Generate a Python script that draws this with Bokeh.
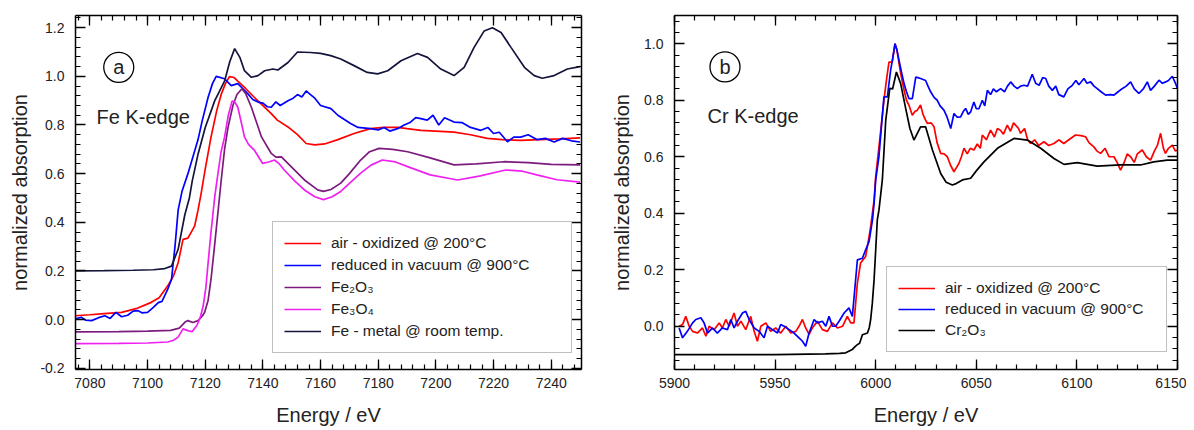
from bokeh.plotting import figure
from bokeh.layouts import row
from bokeh.models import (LinearAxis, SingleIntervalTicker, PrintfTickFormatter,
                          CustomJSTickFormatter, Label, Range1d)
from bokeh.embed import file_html
from bokeh.resources import INLINE

# ---------------- Fe K-edge data (panel a) ----------------
fe_air_x = [7075, 7080, 7085, 7091, 7096, 7101.3, 7104, 7107, 7109, 7110.6, 7112.3, 7114, 7116.3, 7117.5,
            7118.6, 7120, 7122, 7124, 7125.6, 7127, 7128.4, 7130, 7131.3, 7134, 7137, 7140, 7142.9, 7145,
            7148.7, 7152, 7155, 7158, 7161.4, 7166, 7171.6, 7177.3, 7182, 7186.7, 7190, 7194.8, 7200,
            7206.3, 7212, 7217.8, 7223, 7229.4, 7236, 7243, 7250]
fe_air_y = [0.016, 0.02, 0.025, 0.03, 0.045, 0.071, 0.09, 0.139, 0.18, 0.234, 0.33, 0.335, 0.384, 0.45,
            0.52, 0.62, 0.75, 0.86, 0.928, 0.97, 0.999, 0.995, 0.98, 0.95, 0.914, 0.88, 0.847, 0.82,
            0.792, 0.76, 0.724, 0.718, 0.722, 0.74, 0.765, 0.785, 0.79, 0.79, 0.785, 0.778, 0.775,
            0.771, 0.76, 0.745, 0.74, 0.737, 0.74, 0.743, 0.747]

fe_vac_x = [7075, 7077, 7078.5, 7080.6, 7083, 7085.2, 7087, 7089, 7091, 7093.1, 7095, 7096.7, 7098, 7100,
            7102, 7103.7, 7105, 7107, 7108.3, 7109.5, 7110.6, 7112, 7114, 7117.5, 7119, 7121, 7122.5,
            7123.8, 7126.7, 7129, 7131.3, 7133, 7134.8, 7136.5, 7138.3, 7140, 7141.5, 7142.9, 7144.5,
            7146, 7148.7, 7150.5, 7152, 7153.5, 7155, 7156.5, 7158, 7160, 7163.6, 7166, 7170.4, 7173,
            7177.3, 7180, 7182, 7184, 7186.7, 7189, 7191, 7193, 7194.8, 7197, 7199, 7201, 7203, 7206.3,
            7209, 7212, 7215.6, 7218, 7220, 7222, 7224.8, 7227, 7229.4, 7232, 7235, 7238, 7241, 7244,
            7247, 7250]
fe_vac_y = [0.003, 0.01, -0.002, -0.004, 0.008, 0.016, 0.005, 0.03, 0.012, 0.018, 0.035, 0.037, 0.028, 0.03,
            0.05, 0.07, 0.075, 0.125, 0.166, 0.30, 0.45, 0.53, 0.60, 0.74, 0.82, 0.914, 0.97,
            1.0, 0.99, 0.962, 0.97, 0.95, 0.928, 0.905, 0.894, 0.89, 0.875, 0.873, 0.895,
            0.88, 0.90, 0.91, 0.925, 0.915, 0.94, 0.925, 0.91, 0.88, 0.867, 0.84, 0.806, 0.79,
            0.785, 0.78, 0.79, 0.775, 0.785, 0.80, 0.81, 0.83, 0.826, 0.82, 0.84, 0.80, 0.83, 0.812,
            0.81, 0.79, 0.778, 0.79, 0.765, 0.77, 0.731, 0.75, 0.75, 0.76, 0.74, 0.745, 0.73, 0.745,
            0.735, 0.73]

fe2o3_x = [7075, 7090, 7100, 7108, 7111, 7113, 7114, 7115.7, 7117.5, 7119, 7119.8, 7121, 7122, 7123.2,
           7124.4, 7125.6, 7126.7, 7127.9, 7129.6, 7131, 7132.7, 7134, 7136, 7139.5, 7142.9, 7144.5,
           7146.4, 7149.8, 7154.4, 7159, 7161, 7163.6, 7167, 7170, 7173.9, 7177, 7180.3, 7185, 7190.2,
           7198, 7206.3, 7214, 7223.6, 7232, 7240, 7250]
fe2o3_y = [-0.05, -0.049, -0.047, -0.044, -0.035, -0.01, -0.004, -0.012, -0.004, 0.015, 0.03, 0.08, 0.166, 0.3,
           0.44, 0.58, 0.70, 0.79, 0.88, 0.925, 0.949, 0.93, 0.873, 0.751, 0.683, 0.668,
           0.669, 0.629, 0.574, 0.533, 0.527, 0.535, 0.561, 0.60, 0.656, 0.69, 0.704, 0.70, 0.69,
           0.665, 0.636, 0.64, 0.649, 0.645, 0.638, 0.636]

fe3o4_x = [7075, 7090, 7100, 7107, 7109, 7110.6, 7112.3, 7114, 7115.4, 7117.1, 7118.3, 7119.3, 7120.2, 7121,
           7122, 7123.3, 7124.4, 7125.5, 7126.7, 7128, 7129.3, 7130.2, 7131.3, 7132.5, 7133.6, 7135, 7137,
           7139.9, 7142, 7144, 7145.7, 7147.4, 7151, 7154.4, 7158, 7161, 7164, 7167, 7170, 7173.9,
           7177.5, 7181.4, 7186, 7190.2, 7198, 7207.5, 7215, 7224.2, 7230, 7235, 7242, 7250]
fe3o4_y = [-0.099, -0.098, -0.096, -0.092, -0.085, -0.072, -0.038, -0.045, -0.05, -0.024, 0.01, 0.057, 0.13, 0.234,
           0.36, 0.506, 0.60, 0.69, 0.75, 0.84, 0.898, 0.895, 0.873, 0.81, 0.751, 0.72, 0.697,
           0.642, 0.648, 0.656, 0.64, 0.615, 0.57, 0.533, 0.505, 0.493, 0.505, 0.527, 0.56, 0.602,
           0.635, 0.656, 0.648, 0.629, 0.595, 0.574, 0.59, 0.615, 0.61, 0.595, 0.575, 0.565]

fe_metal_x = [7075, 7085, 7095, 7102, 7106, 7108.3, 7110.6, 7112.9, 7114.5, 7115.5, 7117.5, 7120, 7123.3,
              7126.7, 7128.5, 7130.2, 7132, 7133.6, 7136, 7138.3, 7140.6, 7143.5, 7145.2, 7148.7, 7152,
              7156.5, 7160, 7163.5, 7167, 7171.6, 7176.2, 7179.8, 7183.3, 7187.9, 7193.6, 7197.1, 7201.7,
              7206.3, 7209.8, 7213.2, 7216.7, 7219.6, 7222.6, 7226.1, 7230.7, 7234.1, 7236.9, 7241,
              7245.6, 7250]
fe_metal_y = [0.200, 0.201, 0.203, 0.205, 0.210, 0.22, 0.289, 0.43, 0.50, 0.57, 0.68, 0.79, 0.90,
              0.98, 1.06, 1.114, 1.078, 1.023, 0.996, 1.003, 1.023, 1.03, 1.026, 1.057, 1.10,
              1.098, 1.094, 1.085, 1.071, 1.044, 1.016, 1.01, 1.023, 1.064, 1.094, 1.078, 1.03,
              1.003, 1.037, 1.118, 1.186, 1.2, 1.18, 1.118, 1.037, 1.003, 0.992, 1.003,
              1.03, 1.04]

# ---------------- Cr K-edge data (panel b) ----------------
cr_air_x = [5902.3, 5904, 5905.6, 5907.3, 5909, 5911.4, 5913.9, 5915.6, 5917.2, 5919.7, 5922.2, 5923.8,
            5925.5, 5927.2, 5929.6, 5931.3, 5933, 5935.4, 5937.9, 5939.6, 5941.2, 5942.9, 5945.4, 5947.8,
            5950.3, 5952.8, 5955.3, 5957.8, 5960.3, 5961.9, 5963.6, 5965.2, 5966.9, 5968.5, 5971, 5973.5,
            5976, 5978.5, 5981, 5983.5, 5985.9, 5987.6, 5989.2, 5990.9, 5992.5, 5995, 5996.3, 5997.5,
            5999.2, 6000, 6002, 6004.1, 6005.5, 6006.6, 6008.2, 6009.6, 6010.5, 6011.6, 6012.8, 6014.1,
            6015.3, 6016.5, 6018.2, 6019.5, 6020.7, 6022.3, 6023.5, 6024.8, 6025.7, 6027.5, 6029, 6030.5,
            6032.3, 6034, 6035.6, 6037.2, 6038.9, 6040, 6041.4, 6042.6, 6043.9, 6045.5, 6047, 6048.8,
            6050.5, 6052, 6053, 6055, 6057.1, 6059, 6060.5, 6062, 6063.5, 6065.4, 6067, 6068.5, 6069.5,
            6071, 6072, 6074, 6075.5, 6077, 6079, 6081, 6083.6, 6086, 6088.6, 6091, 6093.5, 6096, 6099.3,
            6102, 6104.3, 6106, 6108.4, 6110, 6111.8, 6114, 6116, 6118.4, 6120, 6121.7, 6123.5, 6125,
            6126.7, 6128.5, 6130, 6132.5, 6134.5, 6136.6, 6138.5, 6140, 6141.6, 6143, 6144, 6145.5,
            6147.4, 6149, 6150]
cr_air_y = [0.0, 0.006, 0.035, 0.0, -0.018, -0.024, -0.006, -0.035, 0.0, -0.012, 0.012, -0.006,
            0.024, 0.0, 0.047, 0.0, 0.018, -0.012, 0.035, -0.018, -0.053, 0.0, 0.012, -0.018,
            -0.006, -0.024, 0.0, -0.024, -0.018, 0.0, 0.024, -0.006, -0.029, -0.006, 0.018, -0.012,
            -0.018, 0.012, -0.006, 0.0, 0.035, 0.012, 0.012, 0.153, 0.224, 0.247, 0.30, 0.353,
            0.447, 0.53, 0.66, 0.80, 0.88, 0.935, 0.935, 1.0, 0.98, 0.93, 0.88, 0.836,
            0.80, 0.783, 0.747, 0.76, 0.765, 0.783, 0.75, 0.73, 0.718, 0.72, 0.706, 0.65,
            0.612, 0.61, 0.60, 0.57, 0.547, 0.56, 0.577, 0.60, 0.63, 0.61, 0.63, 0.624,
            0.645, 0.63, 0.677, 0.66, 0.694, 0.67, 0.70, 0.694, 0.68, 0.712, 0.69, 0.72, 0.712,
            0.70, 0.683, 0.70, 0.66, 0.647, 0.66, 0.64, 0.653, 0.64, 0.647, 0.66, 0.647, 0.66, 0.677,
            0.675, 0.671, 0.65, 0.635, 0.62, 0.612, 0.63, 0.60, 0.60, 0.58, 0.553, 0.58, 0.61,
            0.60, 0.58, 0.61, 0.624, 0.60, 0.588, 0.62, 0.64, 0.683, 0.63, 0.612, 0.63,
            0.641, 0.62, 0.624]

cr_vac_x = [5902.3, 5904, 5906.4, 5909, 5910.6, 5913.1, 5914.7, 5916.4, 5918.9, 5921.3, 5923.8, 5926.3,
            5928, 5929.6, 5931.3, 5933.8, 5935.4, 5937.1, 5939.6, 5942.1, 5944.5, 5946.2, 5948.7, 5951.2,
            5952.8, 5954.5, 5957, 5959.4, 5961.9, 5963.6, 5965.2, 5966.9, 5969.4, 5971, 5973.5, 5975.2,
            5976.8, 5978.5, 5980.1, 5981.8, 5984.3, 5985.9, 5986.7, 5988.4, 5990.9, 5993.4, 5995, 5996.7,
            5998.4, 5999.2, 6000, 6001.6, 6003, 6004.1, 6005.8, 6007.4, 6008.5, 6009.6, 6010.5, 6011.6,
            6012.8, 6014.1, 6015.3, 6016.5, 6018.2, 6019.9, 6021, 6022.3, 6024.8, 6026, 6027.3, 6029,
            6030.6, 6032, 6033.9, 6035.5, 6037.3, 6038.9, 6040.5, 6042.2, 6043.5, 6044.7, 6046, 6047.2,
            6048.8, 6050, 6051.3, 6053, 6054.2, 6055.5, 6057.1, 6058.5, 6060, 6062.1, 6064, 6065.5,
            6067.1, 6068.8, 6070.4, 6072, 6073.7, 6075.5, 6077.8, 6079.5, 6081.2, 6083, 6084.5, 6086,
            6087.8, 6089.5, 6091, 6093.5, 6095.5, 6097.7, 6099.5, 6101, 6103.5, 6105, 6106.8, 6108.5,
            6110.1, 6112, 6114.3, 6116.5, 6118.4, 6120.5, 6122.5, 6124.5, 6126.7, 6128.5, 6130.8, 6133,
            6135, 6136.6, 6138.5, 6140.8, 6142.5, 6144.1, 6145.5, 6147.4, 6149, 6150]
cr_vac_y = [-0.006, -0.041, -0.018, 0.012, 0.024, 0.03, 0.012, -0.024, -0.006, -0.024, -0.006, -0.012,
            0.024, -0.006, 0.018, 0.047, 0.053, 0.024, -0.006, -0.018, -0.041, 0.0, -0.012, -0.024,
            0.006, 0.0, -0.012, -0.024, -0.041, -0.053, -0.071, -0.024, 0.024, 0.012, 0.018, 0.0,
            0.035, 0.0, 0.0, 0.018, 0.047, 0.059, 0.065, 0.035, 0.235, 0.241, 0.271, 0.30,
            0.377, 0.436, 0.518, 0.60, 0.72, 0.812, 0.812, 0.906, 0.95, 1.0, 0.98, 0.941,
            0.90, 0.859, 0.83, 0.806, 0.806, 0.882, 0.88, 0.877, 0.87, 0.85, 0.83, 0.81,
            0.80, 0.78, 0.765, 0.74, 0.70, 0.753, 0.74, 0.741, 0.76, 0.771, 0.75, 0.759,
            0.794, 0.77, 0.77, 0.80, 0.78, 0.835, 0.82, 0.84, 0.83, 0.841, 0.83, 0.85,
            0.865, 0.85, 0.841, 0.85, 0.853, 0.85, 0.892, 0.86, 0.853, 0.88, 0.877, 0.85,
            0.835, 0.85, 0.82, 0.812, 0.84, 0.853, 0.87, 0.855, 0.877, 0.86, 0.865, 0.85,
            0.841, 0.83, 0.818, 0.82, 0.818, 0.83, 0.841, 0.85, 0.865, 0.84, 0.824, 0.84,
            0.865, 0.835, 0.85, 0.871, 0.86, 0.865, 0.87, 0.885, 0.86, 0.841]

cr2o3_x = [5900, 5950, 5975, 5982, 5985.1, 5988.4, 5990, 5990.9, 5992, 5993.4, 5995.9, 5996.8, 5997.5,
           5998.3, 5999.2, 6000, 6000.8, 6001.6, 6003.3, 6005, 6007, 6008.4, 6010.3, 6012.4, 6014.9,
           6017, 6019, 6022.3, 6024.8, 6028.2, 6032.3, 6035, 6038.1, 6040, 6043.1, 6047.2, 6050,
           6053.8, 6060.5, 6068.7, 6075.4, 6082, 6088.6, 6093.6, 6100.2, 6110.1, 6121.7, 6131.6,
           6138.2, 6144.9, 6150]
cr2o3_y = [-0.1, -0.1, -0.098, -0.096, -0.094, -0.082, -0.07, -0.065, -0.06, -0.03, -0.024, -0.005, 0.024,
           0.08, 0.165, 0.27, 0.377, 0.41, 0.518, 0.73, 0.842, 0.84, 0.90, 0.859, 0.771,
           0.70, 0.659, 0.706, 0.706, 0.624, 0.541, 0.51, 0.50, 0.505, 0.518, 0.524, 0.55,
           0.582, 0.63, 0.665, 0.659, 0.63, 0.594, 0.573, 0.579, 0.567, 0.571, 0.571,
           0.582, 0.588, 0.588]

labels_a = ["air - oxidized @ 200°C", "reduced in vacuum @ 900°C", "Fe₂O₃", "Fe₃O₄",
            "Fe - metal @ room temp."]
labels_b = ["air - oxidized @ 200°C", "reduced in vacuum @ 900°C", "Cr₂O₃"]

FONT = "Liberation Sans"
TXT = "#222222"


def style_axes(p, xint, yint, ylab_standoff):
    bottom = p.below[0]
    left = p.left[0]
    top = LinearAxis(ticker=SingleIntervalTicker(interval=xint, num_minor_ticks=5),
                     formatter=CustomJSTickFormatter(code="return ''"))
    right = LinearAxis(ticker=SingleIntervalTicker(interval=yint, num_minor_ticks=5),
                       formatter=CustomJSTickFormatter(code="return ''"))
    p.add_layout(top, "above")
    p.add_layout(right, "right")
    bottom.ticker = SingleIntervalTicker(interval=xint, num_minor_ticks=5)
    left.ticker = SingleIntervalTicker(interval=yint, num_minor_ticks=5)
    left.formatter = PrintfTickFormatter(format="%.1f")
    for ax in [bottom, left, top, right]:
        ax.axis_line_color = "black"
        ax.axis_line_width = 1.5
        ax.major_tick_line_color = "black"
        ax.minor_tick_line_color = "black"
        ax.major_tick_line_width = 1.3
        ax.minor_tick_line_width = 1.2
        ax.major_tick_in = 10
        ax.major_tick_out = 0
        ax.minor_tick_in = 5
        ax.minor_tick_out = 0
        ax.major_label_text_font = FONT
        ax.major_label_text_font_size = "14px"
        ax.major_label_text_color = TXT
        ax.axis_label_text_font = FONT
        ax.axis_label_text_font_size = "20px"
        ax.axis_label_text_font_style = "normal"
        ax.axis_label_text_color = TXT
    for ax in [top, right]:
        ax.major_label_text_color = None
        ax.major_label_text_font_size = "1px"
        ax.major_label_standoff = 0
    bottom.major_label_standoff = 8
    bottom.axis_label = "Energy / eV"
    bottom.axis_label_standoff = 13
    left.major_label_standoff = 11
    left.axis_label = "normalized absorption"
    left.axis_label_standoff = ylab_standoff
    p.xgrid.visible = False
    p.ygrid.visible = False
    p.outline_line_color = None


def style_legend(p, loc, label_width, spacing):
    lg = p.legend[0]
    lg.location = loc
    lg.label_text_font = FONT
    lg.label_text_font_size = "15.5px"
    lg.label_text_color = TXT
    lg.glyph_width = 37
    lg.glyph_height = 20
    lg.label_height = 20
    lg.label_width = label_width
    lg.label_standoff = 10
    lg.padding = 11
    lg.spacing = spacing
    lg.margin = 0
    lg.border_line_color = "#808080"
    lg.border_line_width = 1
    lg.background_fill_color = "white"
    lg.background_fill_alpha = 1.0


H = 428
LW = 1.7
# ---------------- panel a ----------------
pa = figure(width=595, height=H, output_backend="svg", toolbar_location=None,
            x_range=Range1d(7075, 7250.5), y_range=Range1d(-0.205, 1.25),
            min_border_left=75, min_border_right=14, min_border_top=15, min_border_bottom=58)
pa.line(fe_air_x, fe_air_y, color="#ff0000", line_width=LW, legend_label=labels_a[0])
pa.line(fe_vac_x, fe_vac_y, color="#0000ff", line_width=LW, legend_label=labels_a[1])
pa.line(fe2o3_x, fe2o3_y, color="#7d1a7d", line_width=LW, legend_label=labels_a[2])
pa.line(fe3o4_x, fe3o4_y, color="#f020f0", line_width=LW, legend_label=labels_a[3])
pa.line(fe_metal_x, fe_metal_y, color="#14143c", line_width=LW, legend_label=labels_a[4])
style_axes(pa, 20, 0.2, 6)
style_legend(pa, (197, 16), 229, 2)

pa.scatter([7090], [1.037], size=30, marker="circle", fill_color=None, line_color="black", line_width=1.3)
pa.add_layout(Label(x=7090, y=1.037, text="a", text_align="center", text_baseline="middle",
                    text_font=FONT, text_font_size="20px", text_color=TXT))
pa.add_layout(Label(x=7082.3, y=0.833, text="Fe K-edge", text_baseline="alphabetic",
                    text_font=FONT, text_font_size="20px", text_color=TXT))

# ---------------- panel b ----------------
pb = figure(width=591, height=H, output_backend="svg", toolbar_location=None,
            x_range=Range1d(5900, 6150), y_range=Range1d(-0.153, 1.10),
            min_border_left=79, min_border_right=9, min_border_top=15, min_border_bottom=58)
pb.line(cr_air_x, cr_air_y, color="#ff0000", line_width=LW, legend_label=labels_b[0])
pb.line(cr_vac_x, cr_vac_y, color="#0000ff", line_width=LW, legend_label=labels_b[1])
pb.line(cr2o3_x, cr2o3_y, color="black", line_width=LW, legend_label=labels_b[2])
style_axes(pb, 50, 0.2, 8)
style_legend(pb, (212, 17), 210, 1)

pb.scatter([5925.1], [0.918], size=30, marker="circle", fill_color=None, line_color="black", line_width=1.3)
pb.add_layout(Label(x=5925.1, y=0.918, text="b", text_align="center", text_baseline="middle",
                    text_font=FONT, text_font_size="20px", text_color=TXT))
pb.add_layout(Label(x=5916.4, y=0.744, text="Cr K-edge", text_baseline="alphabetic",
                    text_font=FONT, text_font_size="20px", text_color=TXT))

layout = row(pa, pb)
open("out.html", "w").write(file_html(layout, INLINE))
